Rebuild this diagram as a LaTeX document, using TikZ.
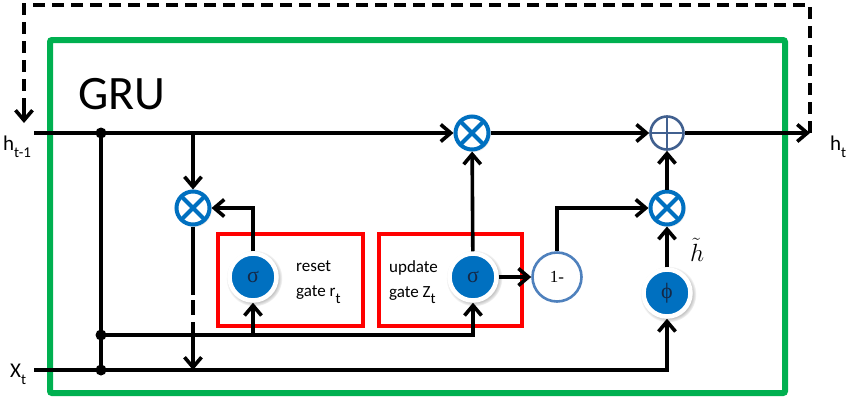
\documentclass[tikz,border=0pt]{standalone}
\usepackage{fontspec}
\setmainfont{Carlito}
\newfontfamily\seriff{Liberation Serif}
\usetikzlibrary{arrows.meta,shadows,calc}
\definecolor{gblue}{RGB}{0,112,192}
\definecolor{pblue}{RGB}{65,96,143}
\definecolor{oblue}{RGB}{79,129,189}
\definecolor{ggreen}{RGB}{0,176,80}
\definecolor{gred}{RGB}{255,0,0}
\definecolor{navy}{RGB}{20,40,70}
\newcommand{\lsub}[1]{\raisebox{-0.38em}{\fontsize{15}{15}\selectfont #1}}
\begin{document}
\begin{tikzpicture}[x=1pt,y=-1pt,
  conn/.style={line width=3.6pt},
  arr/.style={conn,-{Straight Barb[length=10pt,width=17pt]}},
  loopline/.style={line width=3.4pt,dash pattern=on 12pt off 7pt},
  dot/.style={circle,fill=black,minimum size=11pt,inner sep=0pt},
  mul/.style={circle,draw=gblue,line width=4pt,fill=white,minimum size=33pt,inner sep=0pt,
    circular drop shadow={shadow scale=1.1,shadow xshift=0.8pt,shadow yshift=-1pt,opacity=0.35},
    path picture={\draw[gblue,line width=4pt]
      (path picture bounding box.north west)--(path picture bounding box.south east)
      (path picture bounding box.south west)--(path picture bounding box.north east);}},
  plusop/.style={circle,draw=pblue,line width=2.6pt,fill=white,minimum size=33pt,inner sep=0pt,
    path picture={\draw[pblue,line width=2.6pt]
      (path picture bounding box.north)--(path picture bounding box.south)
      (path picture bounding box.west)--(path picture bounding box.east);}},
  act/.style={circle,fill=gblue,draw=white,line width=4.5pt,minimum size=47pt,inner sep=0pt,
    font=\seriff\fontsize{22}{22}\selectfont,text=navy,
    circular drop shadow={shadow scale=1.2,shadow xshift=1pt,shadow yshift=-1pt,opacity=0.45}},
  onebox/.style={circle,draw=oblue,line width=2.6pt,fill=white,minimum size=49pt,inner sep=0pt,
    font=\seriff\fontsize{17}{17}\selectfont},
  gatebox/.style={draw=gred,line width=3.6pt},
  gatelab/.style={anchor=west,align=left,font=\fontsize{17}{25}\selectfont,inner sep=0pt},
  lab/.style={anchor=base west,font=\fontsize{21}{21}\selectfont,inner sep=0pt}
]
\useasboundingbox (0,0) rectangle (850,402);
\fill[white] (0,0) rectangle (850,402);
% frame
\draw[ggreen,line width=6pt,rounded corners=2pt] (50,40) rectangle (785,393);
% gate boxes
\draw[gatebox] (218,234) rectangle (363,326);
\draw[gatebox] (379,234) rectangle (522,326);
% nodes
\node[act] (sigr) at (253,277) {σ};
\node[act] (sigu) at (473,277) {σ};
\node[act] (phi) at (667,293) {ϕ};
\node[onebox] (one) at (557,277) {1-};
\node[mul] (mulr) at (193,208) {};
\node[mul] (mulu) at (472,133) {};
\node[mul] (mulo) at (667,208) {};
\node[plusop] (plus) at (667,133) {};
\node[dot] (j1) at (101,133) {};
\node[dot] (j2) at (101,335) {};
\node[dot] (j3) at (101,370) {};
% coordinates
\coordinate (hin) at (34,133);
\coordinate (hout) at (810,133);
\coordinate (xin) at (34,370);
\coordinate (loopR) at (810,5);
\coordinate (loopL) at (24,5);
\coordinate (loopE) at (24,123);
\coordinate (loopA) at (24,108);
\coordinate (bm) at (193,133);
\coordinate (br) at (253,335);
\coordinate (g1) at (193,295);
\coordinate (g2) at (193,300);
\coordinate (g3) at (193,315);
\coordinate (g4) at (193,322);
\coordinate (bx) at (193,370);
% labels
\node[font=\fontsize{48}{48}\selectfont,inner sep=0pt] (gru) at (122,94) {GRU};
\node[lab] (hprev) at (3,150) {h\lsub{t-1}};
\node[lab] (hnext) at (830,150) {h\lsub{t}};
\node[lab] (xt) at (10,377) {X\lsub{t}};
\node[gatelab] (rlab) at (296,282) {reset\\gate r\lsub{t}};
\node[gatelab] (ulab) at (389,282) {update\\gate Z\lsub{t}};
\node[font=\fontsize{24}{24}\selectfont,inner sep=0pt] (htl) at (697,250) {$\tilde{h}$};
% connectors
\draw[conn] (hin) -- (j1.center);
\draw[arr] (j1.center) -- (mulu);
\draw[arr] (mulu) -- (plus);
\draw[arr] (plus) -- (hout);
\draw[loopline] (hout) -- (loopR) -- (loopL) -- (loopA);
\draw[arr] (loopA) -- (loopE);
\draw[conn] (j1.center) -- (j3.center);
\draw[conn] (xin) -- (j3.center);
\draw[arr] (j3.center) -| (phi);
\draw[arr] (j2.center) -| (sigu);
\draw[arr] (br) -- (sigr);
\draw[arr] (sigr) |- (mulr);
\draw[arr] (bm) -- (mulr);
\draw[conn] (mulr) -- (g1);
\draw[conn] (g2) -- (g3);
\draw[arr] (g4) -- (bx);
\draw[arr] (sigu) -- (mulu);
\draw[arr] (sigu) -- (one);
\draw[arr] (one) |- (mulo);
\draw[arr] (phi) -- (mulo);
\draw[arr] (mulo) -- (plus);
\end{tikzpicture}
\end{document}
